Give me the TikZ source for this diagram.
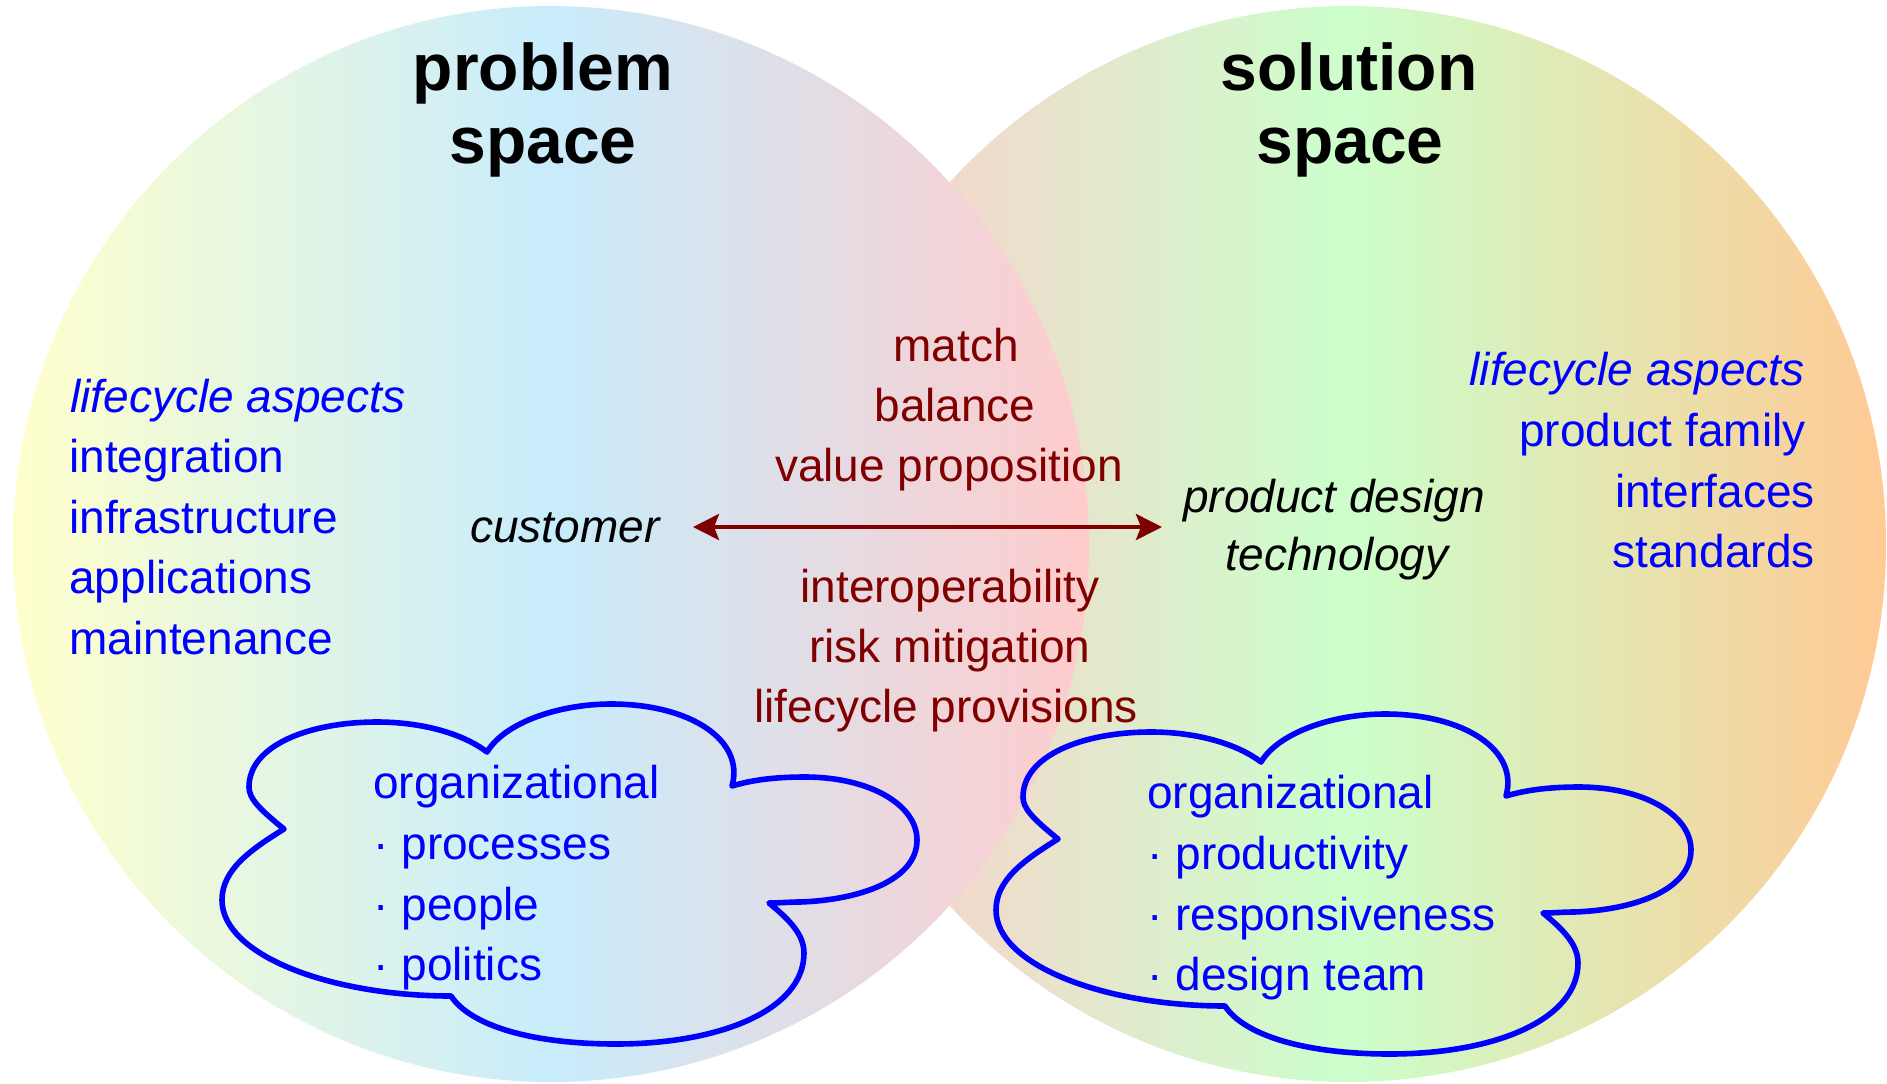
\documentclass[tikz,border=0pt]{standalone}
\usepackage{fontspec}
\setmainfont{Liberation Sans}
\usetikzlibrary{arrows.meta}
\definecolor{lcA}{HTML}{FFFFCC}
\definecolor{lcB}{HTML}{C8ECFC}
\definecolor{lcC}{HTML}{FFCCCC}
\definecolor{rcA}{HTML}{FFCCCC}
\definecolor{rcB}{HTML}{CCFFCC}
\definecolor{rcC}{HTML}{FFCA94}
\definecolor{darkred}{HTML}{800000}
\definecolor{pureblue}{HTML}{0000FF}
\pgfdeclarehorizontalshading{leftspace}{100bp}{color(0bp)=(lcA); color(25bp)=(lcA); color(50bp)=(lcB); color(75bp)=(lcC); color(100bp)=(lcC)}
\pgfdeclarehorizontalshading{rightspace}{100bp}{color(0bp)=(rcA); color(25bp)=(rcA); color(50bp)=(rcB); color(75bp)=(rcC); color(100bp)=(rcC)}
\def\cloudpath{(284,829) .. controls (258,808) and (249,798) .. (249,787)
 .. controls (249,745) and (310,722) .. (377,722)
 .. controls (425,722) and (465,735) .. (487,752)
 .. controls (505,722) and (560,704) .. (611,704)
 .. controls (690,704) and (745,740) .. (732,786)
 .. controls (755,779) and (780,777) .. (805,777)
 .. controls (870,777) and (917,805) .. (917,840)
 .. controls (917,880) and (860,900) .. (800,902)
 .. controls (790,902) and (778,903) .. (769,903)
 .. controls (790,920) and (804,935) .. (804,953)
 .. controls (804,1010) and (720,1044) .. (616,1044)
 .. controls (530,1044) and (470,1025) .. (451,996)
 .. controls (330,996) and (222,955) .. (222,900)
 .. controls (222,870) and (250,850) .. (284,829) -- cycle}
\begin{document}
\begin{tikzpicture}[x=0.5pt,y=-0.5pt,
  txt/.style={inner sep=0pt, font=\fontsize{23pt}{30pt}\selectfont},
  itxt/.style={txt, font=\fontsize{23pt}{30pt}\selectfont\itshape},
  title/.style={inner sep=0pt, anchor=base, font=\fontsize{33pt}{36pt}\selectfont\bfseries},
  bl/.style={txt, text=pureblue},
  rd/.style={txt, text=darkred, anchor=base},
  cloudline/.style={draw=pureblue, line width=2.8pt, line join=round},
  link/.style={draw=darkred, line width=2pt, {Stealth[length=13pt,width=13pt,inset=2.5pt]}-{Stealth[length=13pt,width=13pt,inset=2.5pt]}}]
\useasboundingbox (0,0) rectangle (1887,1083);
% circles
\shade[shading=rightspace] (1348,544) circle[radius=538];
\shade[shading=leftspace] (551,544) circle[radius=538];
% clouds
\path[cloudline] \cloudpath;
\begin{scope}[shift={(774,10)}]
\path[cloudline] \cloudpath;
\end{scope}
% titles
\node[title] (p1) at (543,90) {problem};
\node[title] (p2) at (543,163) {space};
\node[title] (s1) at (1349,90) {solution};
\node[title] (s2) at (1350,163) {space};
% left list
\node[bl, itxt, text=pureblue, anchor=base west] (la) at (70,412) {lifecycle aspects};
\node[bl, anchor=base west] (l1) at (69,472) {integration};
\node[bl, anchor=base west] (l2) at (69,533) {infrastructure};
\node[bl, anchor=base west] (l3) at (69,593) {applications};
\node[bl, anchor=base west] (l4) at (69,654) {maintenance};
% right list
\node[bl, itxt, text=pureblue, anchor=base east] (ra) at (1805,385) {lifecycle aspects};
\node[bl, anchor=base east] (r1) at (1806,446) {product family};
\node[bl, anchor=base east] (r2) at (1815,507) {interfaces};
\node[bl, anchor=base east] (r3) at (1815,567) {standards};
% middle
\node[rd] (m1) at (956,361) {match};
\node[rd] (m2) at (955,421) {balance};
\node[rd] (m3) at (949,481) {value proposition};
\node[rd] (m4) at (950,602) {interoperability};
\node[rd] (m5) at (950,662) {risk mitigation};
\node[rd] (m6) at (946,722) {lifecycle provisions};
% customer / product
\node[itxt, anchor=base west] (cust) at (470,542) {customer};
\node[itxt, anchor=base] (pd) at (1334,512) {product design};
\node[itxt, anchor=base] (tech) at (1337,570) {technology};
\coordinate (arrL) at (693,527);
\coordinate (arrR) at (1162,527);
\draw[link] (arrL) -- (arrR);
% cloud texts
\node[bl, anchor=base west] (c1) at (373,798) {organizational};
\node[bl, anchor=base west] (c2) at (373,859) {· processes};
\node[bl, anchor=base west] (c3) at (373,920) {· people};
\node[bl, anchor=base west] (c4) at (373,980) {· politics};
\node[bl, anchor=base west] (d1) at (1147,808) {organizational};
\node[bl, anchor=base west] (d2) at (1147,869) {· productivity};
\node[bl, anchor=base west] (d3) at (1147,930) {· responsiveness};
\node[bl, anchor=base west] (d4) at (1147,990) {· design team};
\end{tikzpicture}
\end{document}
